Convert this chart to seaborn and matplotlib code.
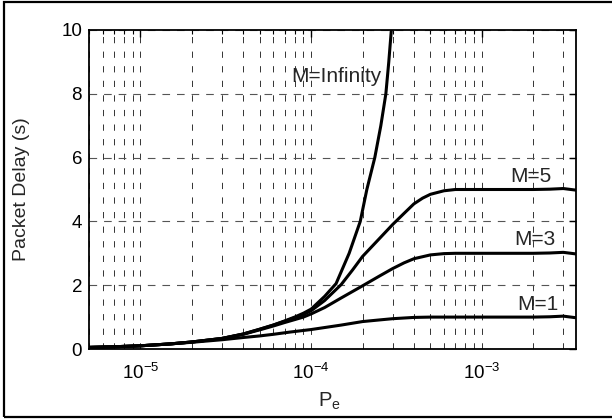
import numpy as np
import pandas as pd
import matplotlib
matplotlib.use("Agg")
import matplotlib.pyplot as plt
import seaborn as sns
from matplotlib.patches import Rectangle
from matplotlib.ticker import LogLocator, NullFormatter

# Packet delay versus packet error probability for different retry limits M
pe_inf = [5e-6, 7e-6, 1e-5, 1.5e-5, 2e-5, 3e-5, 4e-5, 5e-5, 6e-5, 7e-5, 8e-5, 9e-5,
          1e-4, 1.2e-4, 1.4e-4, 1.67e-4, 1.94e-4, 2.12e-4, 2.36e-4, 2.56e-4, 2.74e-4,
          2.85e-4, 2.95e-4]
delay_inf = [0.05, 0.07, 0.10, 0.16, 0.22, 0.33, 0.47, 0.62, 0.75, 0.88, 1.0, 1.12,
             1.25, 1.65, 2.05, 3.0, 4.0, 5.0, 6.0, 7.0, 8.0,
             9.0, 10.0]

pe_m5 = [5e-6, 7e-6, 1e-5, 1.5e-5, 2e-5, 3e-5, 4e-5, 5e-5, 6e-5, 7e-5, 8e-5, 9e-5,
         1e-4, 1.2e-4, 1.5e-4, 1.75e-4, 2e-4, 2.5e-4, 3e-4, 3.5e-4, 4e-4, 4.5e-4, 5e-4,
         6e-4, 7e-4, 8e-4, 1e-3, 1.5e-3, 2e-3, 2.5e-3, 3e-3, 3.56e-3]
delay_m5 = [0.05, 0.07, 0.10, 0.16, 0.22, 0.33, 0.47, 0.62, 0.75, 0.87, 0.98, 1.08,
            1.2, 1.52, 2.02, 2.48, 2.9, 3.45, 3.9, 4.25, 4.55, 4.73, 4.85,
            4.96, 5.0, 5.0, 5.0, 5.0, 5.0, 5.01, 5.03, 4.98]

pe_m3 = [5e-6, 7e-6, 1e-5, 1.5e-5, 2e-5, 3e-5, 4e-5, 5e-5, 6e-5, 7e-5, 8e-5, 9e-5,
         1e-4, 1.2e-4, 1.5e-4, 2e-4, 2.5e-4, 3e-4, 3.5e-4, 4e-4, 5e-4, 6e-4, 7e-4,
         1e-3, 1.5e-3, 2e-3, 2.5e-3, 3e-3, 3.56e-3]
delay_m3 = [0.05, 0.07, 0.10, 0.16, 0.22, 0.33, 0.46, 0.60, 0.72, 0.83, 0.92, 1.0,
            1.1, 1.3, 1.6, 1.98, 2.28, 2.52, 2.7, 2.83, 2.95, 2.99, 3.0,
            3.0, 3.0, 3.0, 3.01, 3.03, 2.98]

pe_m1 = [5e-6, 7e-6, 1e-5, 1.5e-5, 2e-5, 3e-5, 4e-5, 5e-5, 6e-5, 7.5e-5, 1e-4,
         1.5e-4, 2e-4, 2.5e-4, 3e-4, 4e-4, 5e-4, 7e-4, 1e-3, 1.5e-3, 2e-3, 2.5e-3,
         3e-3, 3.56e-3]
delay_m1 = [0.05, 0.07, 0.10, 0.16, 0.21, 0.29, 0.36, 0.41, 0.46, 0.53, 0.61,
            0.75, 0.86, 0.91, 0.95, 0.99, 1.0, 1.0, 1.0, 1.0, 1.0, 1.01,
            1.03, 0.98]

y_ticks = [0, 2, 4, 6, 8, 10]

sns.set_theme(style="white")
plt.rcParams['font.family'] = ['Liberation Sans', 'DejaVu Sans']
plt.rcParams['mathtext.fontset'] = 'custom'
plt.rcParams['mathtext.rm'] = 'Liberation Sans'
plt.rcParams['mathtext.it'] = 'Liberation Sans:italic'
plt.rcParams['lines.scale_dashes'] = False

fig = plt.figure(figsize=(6.12, 4.19), dpi=100)
fig.patch.set_facecolor('white')
ax = fig.add_axes([89 / 612, 1 - 349 / 419, (576 - 89) / 612, (349 - 30) / 419])

curves = [(pe_inf, delay_inf), (pe_m5, delay_m5), (pe_m3, delay_m3), (pe_m1, delay_m1)]
for pe, d in curves:
    df = pd.DataFrame({'Pe': pe, 'Delay': d})
    sns.lineplot(data=df, x='Pe', y='Delay', ax=ax, color='black', linewidth=2.2,
                 sort=False, estimator=None)

ax.set_xscale('log')
ax.set_xlim(5e-6, 3.56e-3)
ax.set_ylim(0, 10)
ax.set_yticks(y_ticks)
ax.xaxis.set_major_locator(LogLocator(base=10, numticks=10))
ax.xaxis.set_minor_locator(LogLocator(base=10, subs=np.arange(2, 10), numticks=30))
ax.xaxis.set_minor_formatter(NullFormatter())

ax.grid(True, which='both', axis='x', color='#333333', linewidth=0.7,
        linestyle=(0, (4.5, 6)))
ax.grid(True, which='major', axis='y', color='#555555', linewidth=0.8,
        linestyle=(0, (5.5, 5)))

ax.tick_params(axis='both', which='both', direction='in', top=True, right=True,
               colors='black', labelsize=13.5)
ax.tick_params(axis='both', which='major', length=5, width=1)
ax.tick_params(axis='x', which='minor', length=3, width=0.8)
ax.tick_params(axis='x', which='major', pad=10)
ax.tick_params(axis='y', which='major', pad=5)

for s in ax.spines.values():
    s.set_color('black')
    s.set_linewidth(1.3)

ax.set_xlabel(r'P$_\mathregular{e}$', fontsize=14.5)
ax.set_ylabel('Packet Delay (s)', fontsize=14)
ax.xaxis.set_label_coords((329 - 89) / 487, (349 - 391) / 319)
ax.yaxis.set_label_coords((30 - 89) / 487, 0.5)

ax.text(7.6e-5, 8.55, 'M=Infinity', fontsize=15, ha='left', va='center')
ax.text(1.47e-3, 5.4, 'M=5', fontsize=15, ha='left', va='center')
ax.text(1.55e-3, 3.42, 'M=3', fontsize=15, ha='left', va='center')
ax.text(1.61e-3, 1.38, 'M=1', fontsize=15, ha='left', va='center')

# outer frame around the figure
fig.add_artist(Rectangle((4 / 612, 2 / 419), 1.02, (417 - 2) / 419, transform=fig.transFigure,
                         fill=False, edgecolor='black', linewidth=1.6, clip_on=False))

fig.savefig('out.png', dpi=100)
